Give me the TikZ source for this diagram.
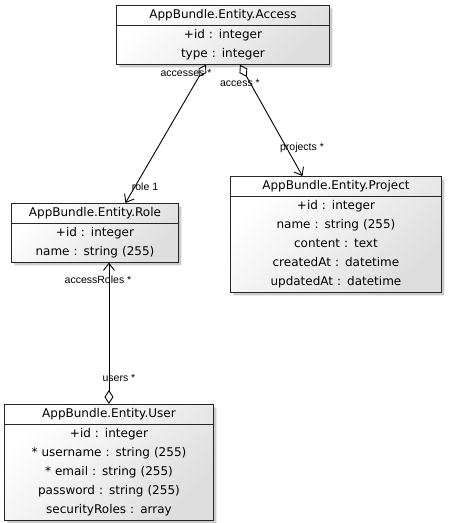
\documentclass[tikz,border=0pt]{standalone}
\usepackage{fontspec}
\setmainfont{DejaVu Sans}
\newfontfamily\rolefont{Liberation Sans}
\usetikzlibrary{shapes.multipart}
\usetikzlibrary{arrows.meta}
\usetikzlibrary{shadows}
\usetikzlibrary{positioning}
\newcommand{\attrow}{\rule[-6pt]{0pt}{19pt}}

\begin{document}
\begin{tikzpicture}[x=1pt,y=-1pt,
	entity/.style={rectangle split,rectangle split parts=2,draw=black!85,line width=0.9pt,inner xsep=0pt,inner ysep=0pt,align=center,anchor=north west,font=\fontsize{12}{19}\selectfont,top color=white,bottom color=black!13,shading angle=45,drop shadow={shadow xshift=3pt,shadow yshift=-3pt,fill=black!20,opacity=1}},
	assoc/.style={draw=black,line width=0.9pt,{Diamond[open,length=14pt,width=9pt]}-{Straight Barb[length=7pt,width=11pt]}},
	role/.style={font=\rolefont\fontsize{10.5}{12}\selectfont,inner sep=0pt}]
	\useasboundingbox (0,0) rectangle (448,523);

	\node[entity,text width=213pt] (access) at (116,5) {\attrow AppBundle.Entity.Access
		\nodepart{two}\attrow +id : integer\\\attrow type : integer};
	\node[entity,text width=167pt] (role) at (11,203) {\attrow AppBundle.Entity.Role
		\nodepart{two}\attrow +id : integer\\\attrow name : string (255)};
	\node[entity,text width=211pt] (project) at (230,176) {\attrow AppBundle.Entity.Project
		\nodepart{two}\attrow +id : integer\\\attrow name : string (255)\\\attrow content : text\\\attrow createdAt : datetime\\\attrow updatedAt : datetime};
	\node[entity,text width=209pt] (user) at (4,404) {\attrow AppBundle.Entity.User
		\nodepart{two}\attrow +id : integer\\\attrow * username : string (255)\\\attrow * email : string (255)\\\attrow password : string (255)\\\attrow securityRoles : array};

	\draw[assoc] ([xshift=-17pt]access.south) -- ([xshift=30.5pt]role.north);
	\draw[assoc] ([xshift=17pt]access.south) -- ([xshift=-33.5pt]project.north);
	\draw[assoc] (user.north) -- (user.north |- role.south);

	\node[role] (accesses label) at (186,73) {accesses *};
	\node[role] (access label) at (240,83) {access *};
	\node[role] (role label) at (145,187) {role 1};
	\node[role] (projects label) at (302,148) {projects *};
	\node[role] (access roles label) at (98,280) {accessRoles *};
	\node[role] (users label) at (119,378) {users *};
\end{tikzpicture}
\end{document}
